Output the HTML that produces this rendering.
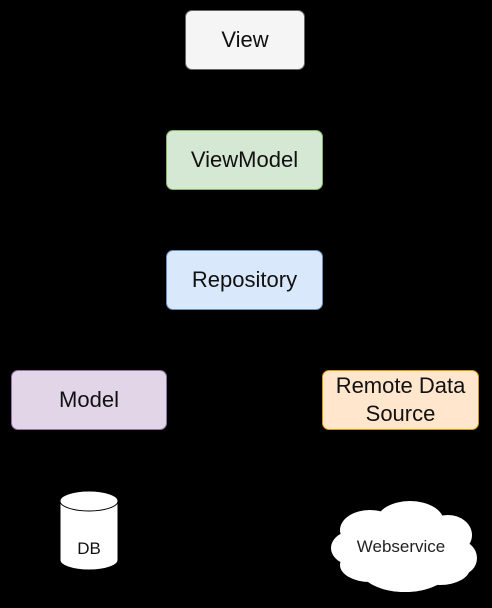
<!DOCTYPE html>
<html><head><style>
html,body{margin:0;padding:0;background:#000;}
body{width:492px;height:608px;position:relative;overflow:hidden;font-family:"Liberation Sans",sans-serif;}
.b{position:absolute;box-sizing:border-box;border-radius:7px;border:1px solid;display:flex;align-items:center;justify-content:center;text-align:center;font-size:22px;color:#111;line-height:28px;}
</style></head><body>
<div class="b" style="left:185px;top:10px;width:120px;height:60px;background:#f5f5f5;border-color:#666">View</div>
<div class="b" style="left:166px;top:130px;width:157px;height:60px;background:#d5e8d4;border-color:#82b366">ViewModel</div>
<div class="b" style="left:166px;top:250px;width:157px;height:60px;background:#dae8fc;border-color:#6c8ebf">Repository</div>
<div class="b" style="left:11px;top:370px;width:156px;height:60px;background:#e1d5e7;border-color:#9673a6">Model</div>
<div class="b" style="left:322px;top:370px;width:157px;height:60px;background:#ffe6cc;border-color:#d79b00">Remote Data<br>Source</div>
<svg width="492" height="608" style="position:absolute;left:0;top:0">
<path d="M60,501 A29,10 0 0 1 118,501 L118,560 A29,10 0 0 1 60,560 Z" fill="#fff" stroke="#000"/>
<path d="M60,501 A29,10 0 0 0 118,501" fill="none" stroke="#000"/>
<text x="89" y="554" font-size="17" text-anchor="middle" font-family="Liberation Sans" fill="#111">DB</text>
<g fill="#fff">
<ellipse cx="370" cy="530" rx="30" ry="20"/>
<ellipse cx="410" cy="522" rx="34" ry="21"/>
<ellipse cx="448" cy="535" rx="24" ry="20"/>
<ellipse cx="356" cy="548" rx="25" ry="18"/>
<ellipse cx="460" cy="558" rx="17" ry="17"/>
<ellipse cx="405" cy="570" rx="44" ry="22"/>
<ellipse cx="370" cy="565" rx="30" ry="17"/>
<ellipse cx="440" cy="568" rx="30" ry="17"/>
<ellipse cx="403" cy="548" rx="60" ry="25"/>
</g>
<text x="401" y="552" font-size="17" text-anchor="middle" font-family="Liberation Sans" fill="#222">Webservice</text>
</svg>
</body></html>
